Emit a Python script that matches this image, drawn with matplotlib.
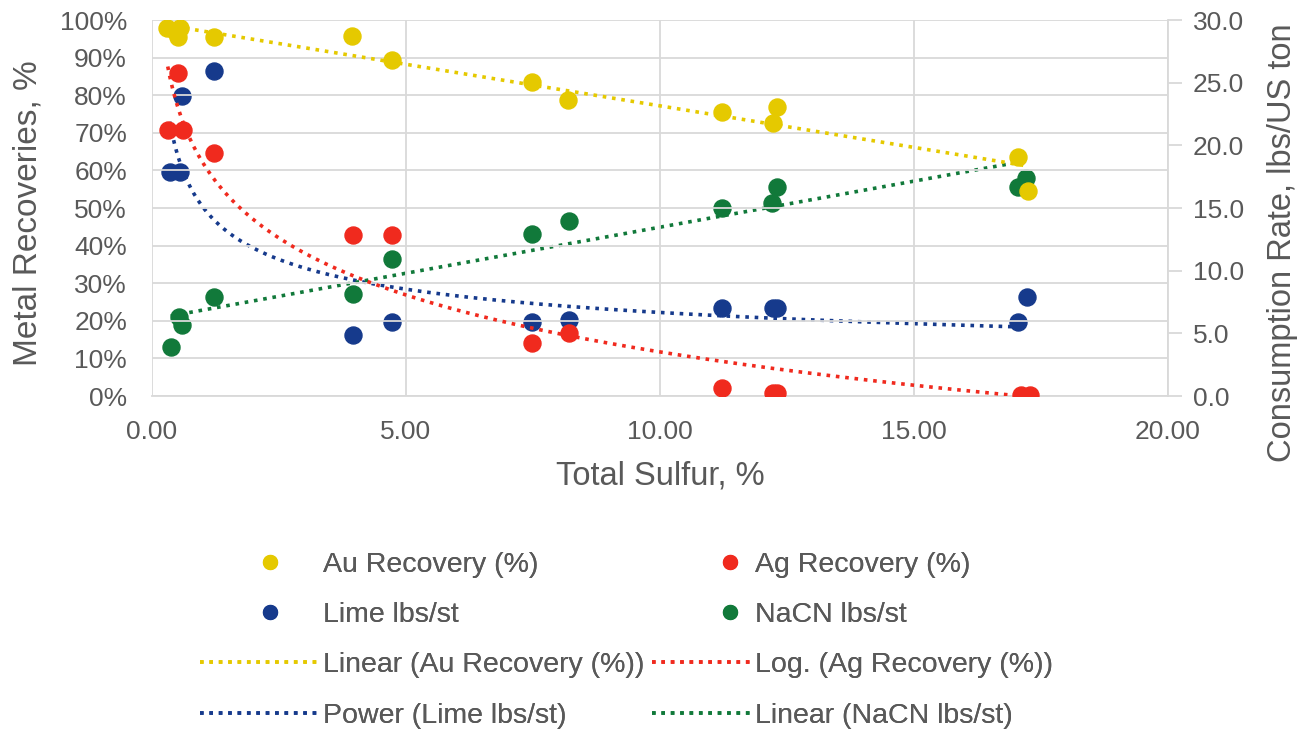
import numpy as np
import matplotlib
matplotlib.use("Agg")
import matplotlib.pyplot as plt
from matplotlib.lines import Line2D
from matplotlib.legend_handler import HandlerLine2DCompound
from matplotlib.ticker import FuncFormatter

plt.rcParams['font.family'] = ['Liberation Sans', 'DejaVu Sans']

# --- data (Total Sulfur %, values) ---
au_x = [0.30, 0.45, 0.52, 0.55, 1.22, 3.93, 4.73, 7.49, 8.19, 11.22, 12.22, 12.30, 17.05, 17.25]
au_y = [98.0, 97.0, 95.5, 98.0, 95.5, 95.7, 89.4, 83.5, 78.7, 75.5, 72.6, 76.9, 63.6, 54.5]

ag_x = [0.31, 0.51, 0.61, 1.22, 3.95, 4.73, 7.49, 8.21, 11.22, 12.22, 12.30, 17.10, 17.28]
ag_y = [70.7, 85.9, 70.7, 64.6, 42.8, 42.8, 14.1, 16.7, 2.1, 0.8, 0.8, 0.3, 0.3]

lime_x = [0.35, 0.55, 0.59, 1.22, 3.95, 4.73, 7.49, 8.21, 11.22, 12.22, 12.30, 17.05, 17.22]
lime_y = [17.9, 17.9, 23.9, 25.9, 4.9, 5.9, 5.9, 6.1, 7.0, 7.0, 7.0, 5.9, 7.9]

nacn_x = [0.37, 0.53, 0.59, 1.22, 3.95, 4.73, 7.49, 8.21, 11.22, 12.20, 12.30, 17.05, 17.20]
nacn_y = [3.9, 6.3, 5.7, 7.9, 8.1, 10.9, 12.9, 14.0, 15.0, 15.4, 16.7, 16.7, 17.4]

x_ticks = [0, 5, 10, 15, 20]
left_ticks = list(range(0, 101, 10))
right_ticks = [0, 5, 10, 15, 20, 25, 30]

labels = ["Au Recovery (%)", "Ag Recovery (%)", "Lime lbs/st", "NaCN lbs/st",
          "Linear (Au Recovery (%))", "Log. (Ag Recovery (%))",
          "Power (Lime lbs/st)", "Linear (NaCN lbs/st)"]

C_AU = '#E5C900'
C_AG = '#F02A1E'
C_LIME = '#163A8C'
C_NACN = '#11793A'
GRAY = '#595959'
GRID = '#D9D9D9'

W, H = 1302, 733
AX_L, AX_R, AX_T, AX_B = 152, 1168, 20, 396
fig = plt.figure(figsize=(W/100, H/100), dpi=100)
ax = fig.add_axes([AX_L/W, 1-AX_B/H, (AX_R-AX_L)/W, (AX_B-AX_T)/H])
ax2 = ax.twinx()

ax.set_xlim(0, 20)
ax.set_ylim(0, 100)
ax2.set_ylim(0, 30)
ax.set_xticks(x_ticks)
ax.set_yticks(left_ticks)
ax2.set_yticks(right_ticks)
ax.xaxis.set_major_formatter(FuncFormatter(lambda v, p: f"{v:.2f}"))
ax.yaxis.set_major_formatter(FuncFormatter(lambda v, p: f"{v:.0f}%"))
ax2.yaxis.set_major_formatter(FuncFormatter(lambda v, p: f"{v:.1f}"))

ax.grid(True, color=GRID, lw=1.3)
ax.set_axisbelow(True)
for a in (ax, ax2):
    for s in a.spines.values():
        s.set_visible(False)
    a.tick_params(length=0, labelsize=19, labelcolor=GRAY)
ax.spines['bottom'].set_visible(True)
ax.spines['bottom'].set_color(GRID)
ax.spines['bottom'].set_linewidth(1.3)
ax2.spines['right'].set_visible(True)
ax2.spines['right'].set_color(GRID)
ax2.spines['right'].set_linewidth(1.3)
ax.tick_params(axis='x', pad=17)
ax.tick_params(axis='y', pad=18)
ax2.tick_params(axis='y', pad=8, length=10, direction='out', color=GRID, width=1.3)

ax.set_xlabel("Total Sulfur, %", fontsize=23.5, color=GRAY)
ax.set_ylabel("Metal Recoveries, %", fontsize=24, color=GRAY)
ax2.set_ylabel("Consumption Rate, lbs/US ton", fontsize=23.5, color=GRAY)
aw, ah = AX_R - AX_L, AX_B - AX_T
ax.xaxis.set_label_coords(0.5, (AX_B - 476) / ah)
ax.xaxis.label.set_va('center')
ax.yaxis.set_label_coords((28 - AX_L) / aw, (AX_B - 213) / ah)
ax.yaxis.label.set_va('center')
ax2.yaxis.set_label_coords((1283 - AX_L) / aw, (AX_B - 243) / ah)
ax2.yaxis.label.set_va('center')

ms = 150
ax.scatter(au_x, au_y, s=ms, color=C_AU, zorder=3)
ax.scatter(ag_x, ag_y, s=ms, color=C_AG, zorder=3)
ax2.scatter(lime_x, lime_y, s=ms, color=C_LIME, zorder=3)
ax2.scatter(nacn_x, nacn_y, s=ms, color=C_NACN, zorder=3)

ls = (0, (1, 1.6))
lw = 2.6
# trend lines fitted to the data
xa, xg = np.array(au_x), np.array(ag_x)
xl, yl = np.array(lime_x), np.array(lime_y)
xn, yn = np.array(nacn_x), np.array(nacn_y)

p = np.polyfit(xa, au_y, 1)
xx = np.linspace(xa.min(), xa.max(), 200)
ax.plot(xx, np.polyval(p, xx), color=C_AU, ls=ls, lw=lw, zorder=4)

p = np.polyfit(np.log(xg), ag_y, 1)
xx = np.linspace(xg.min(), xg.max(), 400)
ax.plot(xx, np.polyval(p, np.log(xx)), color=C_AG, ls=ls, lw=lw, zorder=4)

p = np.polyfit(np.log(xl), np.log(yl), 1)
xx = np.linspace(xl.min(), xl.max(), 400)
ax2.plot(xx, np.exp(np.polyval(p, np.log(xx))), color=C_LIME, ls=ls, lw=lw, zorder=4)

p = np.polyfit(xn, yn, 1)
xx = np.linspace(xn.min(), xn.max(), 200)
ax2.plot(xx, np.polyval(p, xx), color=C_NACN, ls=ls, lw=lw, zorder=4)

ax.set_zorder(ax2.get_zorder() + 1)
ax.patch.set_visible(False)
ax2.set_ylim(0, 30)


class ShiftedMarker(HandlerLine2DCompound):
    def __init__(self, frac, **kw):
        super().__init__(**kw)
        self.frac = frac

    def get_xdata(self, legend, xdescent, ydescent, width, height, fontsize):
        xdata, _ = super().get_xdata(legend, xdescent, ydescent, width, height, fontsize)
        return xdata, np.array([self.frac * width - xdescent])


def mk(c):
    return Line2D([], [], marker='o', ls='none', color=c, markersize=10)


def ln(c):
    return Line2D([], [], ls=ls, lw=lw, color=c)


LFS = 20.5
em = LFS * 100 / 72.0
col1 = [(mk(C_AU), labels[0]), (mk(C_LIME), labels[2]), (ln(C_AU), labels[4]), (ln(C_LIME), labels[6])]
col2 = [(mk(C_AG), labels[1]), (mk(C_NACN), labels[3]), (ln(C_AG), labels[5]), (ln(C_NACN), labels[7])]

for col, x0, hl, frac in [(col1, 200, 118, 0.59), (col2, 652, 98, 0.80)]:
    hs = [h for h, _ in col]
    ls_ = [l for _, l in col]
    hmap = {h: ShiftedMarker(frac, numpoints=1) for h in hs[:2]}
    leg = fig.legend(hs, ls_, loc='upper left', bbox_to_anchor=(x0 / W, 1 - 552 / H),
                     frameon=False, fontsize=LFS, labelcolor=GRAY,
                     handlelength=hl / em, handletextpad=5 / em, labelspacing=0.85,
                     borderpad=0, borderaxespad=0, handler_map=hmap)
    fig.add_artist(leg)

fig.savefig("out.png", dpi=100)
